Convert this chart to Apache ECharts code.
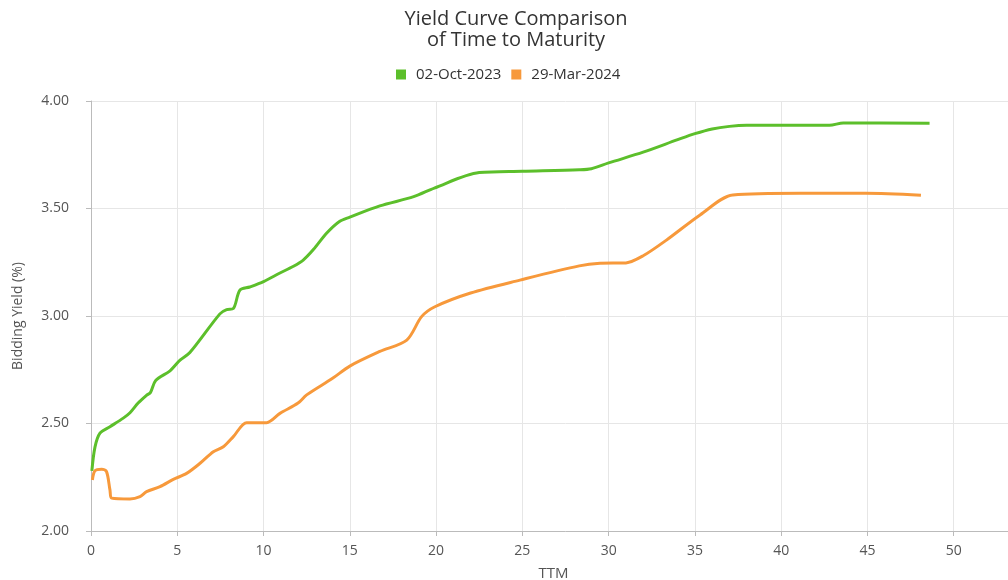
<!DOCTYPE html>
<html>
<head>
<meta charset="utf-8">
<script src="https://cdn.jsdelivr.net/npm/echarts@6/dist/echarts.min.js"></script>
<style>
  html, body { margin: 0; padding: 0; background: #fff; overflow: hidden; }
  /* plot runs past the right edge of the window, like the cropped original */
  #chart { width: 1040px; height: 580px; }
</style>
</head>
<body>
<div id="chart"></div>
<script>
// yield curves, [TTM, yield %]
const seriesNames = ['02-Oct-2023', '29-Mar-2024']
const oct2023 = [
  [0.05, 2.28], [0.23, 2.39], [0.52, 2.455], [1.1, 2.485], [1.87, 2.525],
  [2.26, 2.55], [2.73, 2.595], [3.2, 2.63], [3.45, 2.645], [3.75, 2.70],
  [4.58, 2.745], [5.16, 2.795], [5.73, 2.83], [7.47, 3.01], [7.86, 3.03],
  [8.25, 3.035], [8.63, 3.12], [9.2, 3.135], [10.0, 3.16], [10.95, 3.20],
  [11.7, 3.23], [12.3, 3.26], [12.9, 3.31], [13.65, 3.385], [14.4, 3.44],
  [15.0, 3.46], [16.74, 3.512], [18.7, 3.555], [19.9, 3.595], [22.5, 3.667],
  [25.0, 3.673], [28.3, 3.68], [29.0, 3.685], [30.0, 3.712], [32.0, 3.762],
  [34.0, 3.82], [35.0, 3.848], [36.0, 3.87], [37.0, 3.882], [38.0, 3.887],
  [40.0, 3.887], [42.8, 3.887], [43.6, 3.898], [48.6, 3.897]
]
const mar2024 = [
  [0.08, 2.237], [0.23, 2.28], [0.62, 2.287], [0.9, 2.276], [1.1, 2.19],
  [1.2, 2.153], [2.26, 2.149], [2.84, 2.16], [3.22, 2.183], [4.0, 2.206],
  [4.77, 2.24], [5.54, 2.268], [6.32, 2.315], [7.09, 2.369], [7.67, 2.392],
  [8.25, 2.439], [9.02, 2.504], [10.18, 2.504], [10.95, 2.547], [12.0, 2.595],
  [12.5, 2.633], [14.0, 2.71], [15.0, 2.767], [16.74, 2.835], [18.3, 2.888],
  [19.16, 2.997], [19.93, 3.043], [22.0, 3.107], [24.86, 3.167], [28.3, 3.233],
  [29.5, 3.245], [31.0, 3.247], [32.0, 3.28], [33.35, 3.353], [35.3, 3.47],
  [37.2, 3.563], [41.1, 3.571], [44.9, 3.571], [48.1, 3.562]
]
const colors = ['#5cbf2b', '#f7993b']

const myChart = echarts.init(document.getElementById('chart'))
const option = {
  color: colors,
  animation: false,
  textStyle: { fontFamily: 'Open Sans' },
  title: {
    text: 'Yield Curve Comparison\nof Time to Maturity',
    left: 511,
    top: 4,
    textAlign: 'center',
    textStyle: {
      fontSize: 20,
      fontWeight: 'normal',
      color: '#333',
      lineHeight: 21
    }
  },
  legend: {
    data: seriesNames,
    left: 396,
    top: 67,
    padding: 0,
    icon: 'rect',
    itemWidth: 10,
    itemHeight: 10,
    itemGap: 10,
    textStyle: { fontSize: 15, color: '#333', padding: [0, 0, 0, 5] }
  },
  grid: {
    left: 91,
    right: 0,
    top: 101,
    bottom: 49,
    outerBoundsMode: 'none'
  },
  xAxis: {
    type: 'value',
    min: 0,
    max: 55,
    interval: 5,
    name: 'TTM',
    nameLocation: 'middle',
    nameGap: 35,
    nameTextStyle: { fontSize: 15, color: '#555', padding: [0, 24, 0, 0] },
    axisLine: { show: true, lineStyle: { color: '#bbb' } },
    axisTick: { show: true, length: 5, lineStyle: { color: '#bbb' } },
    axisLabel: { fontSize: 14, color: '#555', margin: 13 },
    splitLine: { show: true, lineStyle: { color: '#e6e6e6' } }
  },
  yAxis: {
    type: 'value',
    min: 2,
    max: 4,
    interval: 0.5,
    name: 'Bidding Yield (%)',
    nameLocation: 'middle',
    nameGap: 66,
    nameTextStyle: { fontSize: 14, color: '#555' },
    axisLine: { show: true, lineStyle: { color: '#bbb' } },
    axisTick: { show: true, length: 5, lineStyle: { color: '#bbb' } },
    axisLabel: {
      fontSize: 14,
      color: '#555',
      margin: 22,
      formatter: v => v.toFixed(2)
    },
    splitLine: { show: true, lineStyle: { color: '#e6e6e6' } }
  },
  series: [
    {
      name: seriesNames[0],
      type: 'line',
      data: oct2023,
      smooth: 0.3,
      symbol: 'none',
      lineStyle: { width: 3 }
    },
    {
      name: seriesNames[1],
      type: 'line',
      data: mar2024,
      smooth: 0.3,
      symbol: 'none',
      lineStyle: { width: 3 }
    }
  ]
}
myChart.setOption(option, true)
</script>
</body>
</html>
